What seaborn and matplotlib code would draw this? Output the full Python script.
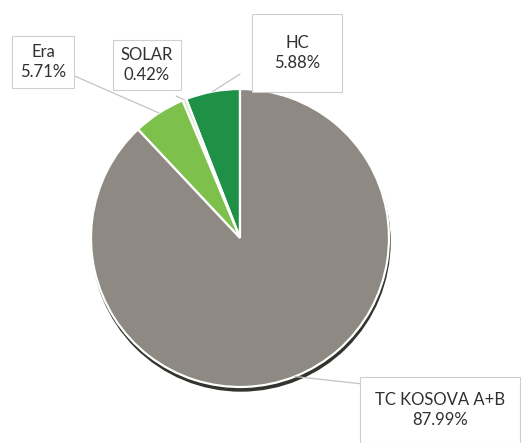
import numpy as np
import seaborn as sns
import matplotlib.pyplot as plt
from matplotlib.patches import Circle

# Data
labels = ['HC', 'SOLAR', 'Era', 'TC KOSOVA A+B']
shares = [5.88, 0.42, 5.71, 87.99]
colors = ['#1f9146', '#d6e6bf', '#7dc04c', '#8e8a83']

sns.set_theme(style='white')
plt.rcParams['font.family'] = ['Lato', 'DejaVu Sans']

fig = plt.figure(figsize=(5.27, 4.43), dpi=100)
ax = fig.add_axes([0, 0, 1, 1])

cx, cy, r = 240, 443 - 238, 149

# shadow under the pie
ax.add_patch(Circle((cx + 1, cy - 4), r, color='#33332f', zorder=0))

wedges, _ = ax.pie(shares, colors=colors, startangle=90, counterclock=True,
                   center=(cx, cy), radius=r, frame=True,
                   wedgeprops=dict(edgecolor='white', linewidth=1.6))
ax.set_xlim(0, 527)
ax.set_ylim(0, 443)
ax.set_aspect('equal')
ax.axis('off')

# label positions (pixels from top-left) and box padding
label_pos = {'HC': (297, 53), 'SOLAR': (147, 65), 'Era': (43, 62),
             'TC KOSOVA A+B': (440, 410)}
line_end = {'HC': (240, 74), 'SOLAR': (176, 96), 'Era': (70, 74),
            'TC KOSOVA A+B': (372, 385)}
pads = {'HC': 1.3, 'SOLAR': 0.45, 'Era': 0.5, 'TC KOSOVA A+B': 0.9}

for w, lab, val in zip(wedges, labels, shares):
    ang = np.deg2rad((w.theta1 + w.theta2) / 2)
    px = cx + r * np.cos(ang)
    py = cy + r * np.sin(ang)
    ex, ey = line_end[lab]
    ax.plot([px, ex], [py, 443 - ey], color='#c4c4c4', lw=0.9, zorder=1)
    tx, ty = label_pos[lab]
    ax.text(tx, 443 - ty, f'{lab}\n{val:.2f}%', ha='center', va='center',
            fontsize=12, color='#303030', linespacing=1.25, zorder=3,
            bbox=dict(boxstyle=f'square,pad={pads[lab]}', fc='white',
                      ec='#cfcfcf', lw=0.8))

fig.savefig('out.png', dpi=100)
